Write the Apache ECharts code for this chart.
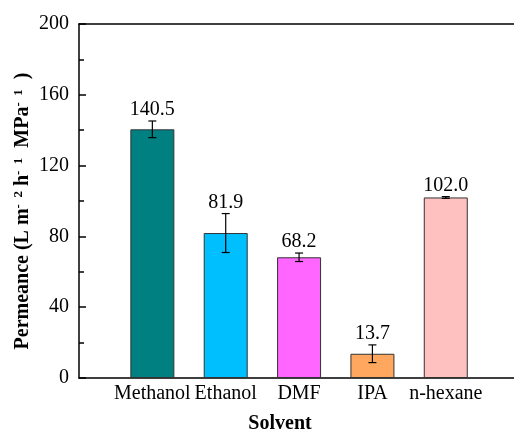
<!DOCTYPE html>
<html>
<head>
<meta charset="utf-8">
<script src="https://cdn.jsdelivr.net/npm/echarts@6/dist/echarts.min.js"></script>
<style>
  html, body { margin: 0; padding: 0; background: #fff; }
  #chart { width: 514px; height: 430px; }
</style>
</head>
<body>
<div id="chart"></div>
<script>
// Solvent permeance with standard deviation
const solvents = ['Methanol', 'Ethanol', 'DMF', 'IPA', 'n-hexane'];
const permeance = [140.5, 81.9, 68.2, 13.7, 102.0];
const stdDev = [4.7, 11.0, 2.4, 5.0, 0.5];
const yTicks = [0, 40, 80, 120, 160, 200];

const barColors = ['#008080', '#00BFFF', '#FF66FF', '#FFA75E', '#FFC0C0'];
const FONT = 'Liberation Serif';

// Solvents sit at x = 1..5 on a numeric axis
const barData = solvents.map((s, i) => [i + 1, permeance[i]]);
const errData = solvents.map((s, i) => [i + 1, permeance[i], stdDev[i]]);

const chart = echarts.init(document.getElementById('chart'), null, { renderer: 'canvas' });

chart.setOption({
  animation: false,
  grid: { left: 79, right: 0, top: 24, bottom: 52, containLabel: false, outerBoundsMode: 'none' },
  xAxis: [{
    type: 'value',
    min: 0,
    max: 5.93,
    interval: 1,
    name: 'Solvent',
    nameLocation: 'middle',
    nameGap: 36,
    nameTextStyle: {
      fontFamily: FONT, fontSize: 20, fontWeight: 'bold', color: '#000',
      padding: [0, 33, 0, 0]
    },
    axisLine: { show: true, lineStyle: { color: '#000', width: 1.5 } },
    axisTick: { show: false },
    splitLine: { show: false },
    axisLabel: {
      fontFamily: FONT, fontSize: 20, color: '#000', margin: 6,
      showMaxLabel: false,
      formatter: v => (v >= 1 && v <= solvents.length && Number.isInteger(v)) ? solvents[v - 1] : ''
    }
  }, {
    // top frame line
    type: 'value',
    position: 'top',
    min: 0,
    max: 5.93,
    axisLine: { show: true, onZero: false, lineStyle: { color: '#000', width: 1.5 } },
    axisTick: { show: false },
    axisLabel: { show: false },
    splitLine: { show: false }
  }],
  yAxis: {
    type: 'value',
    min: yTicks[0],
    max: yTicks[yTicks.length - 1],
    interval: yTicks[1] - yTicks[0],
    name: 'Permeance (L m{sup|-  2} h{sup|-  1}  MPa{sup|-  1}  )',
    nameLocation: 'middle',
    nameGap: 45,
    nameMoveOverlap: false,
    nameTextStyle: {
      fontFamily: FONT, fontSize: 20, fontWeight: 'bold', color: '#000',
      padding: [0, 20, 0, 0],
      rich: {
        sup: {
          fontFamily: FONT, fontSize: 13, fontWeight: 'bold', color: '#000',
          verticalAlign: 'top', padding: [0, 0, 9, 0]
        }
      }
    },
    axisLine: { show: true, lineStyle: { color: '#000', width: 1.5 } },
    axisTick: { show: true, inside: true, length: 7, lineStyle: { color: '#000', width: 1.5 } },
    minorTick: { show: true, splitNumber: 2, length: 5, lineStyle: { color: '#000', width: 1.5 } },
    splitLine: { show: false },
    axisLabel: { fontFamily: FONT, fontSize: 20, color: '#000', margin: 10 }
  },
  series: [{
    type: 'bar',
    data: barData,
    barWidth: 44,
    itemStyle: {
      color: p => barColors[p.dataIndex],
      borderColor: '#333',
      borderWidth: 1
    }
  }, {
    type: 'custom',
    data: errData,
    clip: false,
    z: 10,
    renderItem: (params, api) => {
      const x = api.value(0);
      const v = api.value(1);
      const e = api.value(2);
      const hi = api.coord([x, v + e]);
      const lo = api.coord([x, v - e]);
      const cap = 4;
      const line = { stroke: '#000', lineWidth: 1.2 };
      return {
        type: 'group',
        children: [
          { type: 'line', shape: { x1: hi[0], y1: hi[1], x2: lo[0], y2: lo[1] }, style: line },
          { type: 'line', shape: { x1: hi[0] - cap, y1: hi[1], x2: hi[0] + cap, y2: hi[1] }, style: line },
          { type: 'line', shape: { x1: lo[0] - cap, y1: lo[1], x2: lo[0] + cap, y2: lo[1] }, style: line },
          {
            type: 'text',
            x: hi[0],
            y: hi[1] - 1,
            style: {
              text: v.toFixed(1),
              fontFamily: FONT,
              fontSize: 20,
              fill: '#000',
              align: 'center',
              verticalAlign: 'bottom'
            }
          }
        ]
      };
    }
  }]
});
</script>
</body>
</html>
